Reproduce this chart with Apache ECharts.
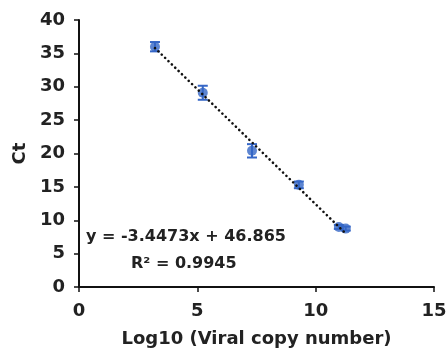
<!DOCTYPE html>
<html>
<head>
<meta charset="utf-8">
<script src="https://cdn.jsdelivr.net/npm/echarts@6/dist/echarts.min.js"></script>
<style>
  html, body { margin: 0; padding: 0; background: #fff; }
  #chart { width: 448px; height: 349px; }
</style>
</head>
<body>
<div id="chart"></div>
<script>
// standard curve points
const logCopies = [3.21, 5.23, 7.31, 9.29, 10.98, 11.27];
const ctMeans = [36.0, 29.1, 20.4, 15.3, 9.0, 8.75];
const ctErrors = [0.7, 1.05, 1.0, 0.5, 0.3, 0.3];

// trendline shown in the figure
const slope = -3.4473;
const intercept = 46.865;
const rSquared = 0.9945;

const xTicks = [0, 5, 10, 15];
const yTicks = [0, 5, 10, 15, 20, 25, 30, 35, 40];

const blue = "#3566c6";
const font = "'DejaVu Sans', sans-serif";

const points = logCopies.map((x, i) => [x, ctMeans[i]]);
const errorData = logCopies.map((x, i) => [x, ctMeans[i] - ctErrors[i], ctMeans[i] + ctErrors[i]]);
const xMin = Math.min(...logCopies);
const xMax = Math.max(...logCopies);
const trend = [
  [xMin, slope * xMin + intercept],
  [xMax, slope * xMax + intercept],
];

const chart = echarts.init(document.getElementById("chart"), null, { renderer: "canvas" });

chart.setOption({
  animation: false,
  backgroundColor: "#fff",
  grid: { left: 79, right: 14, top: 20, bottom: 62, containLabel: false, outerBoundsMode: "none" },
  xAxis: {
    type: "value",
    min: xTicks[0],
    max: xTicks[xTicks.length - 1],
    interval: 5,
    name: "Log10 (Viral copy number)",
    nameLocation: "middle",
    nameGap: 43,
    nameTextStyle: { fontFamily: font, fontWeight: "bold", fontSize: 18, color: "#222" },
    axisLine: { lineStyle: { color: "#111", width: 2 } },
    axisTick: { show: true, length: 5, lineStyle: { color: "#111", width: 1.5 } },
    axisLabel: { margin: 15, fontFamily: font, fontWeight: "bold", fontSize: 18, color: "#222" },
    splitLine: { show: false },
  },
  yAxis: {
    type: "value",
    min: yTicks[0],
    max: yTicks[yTicks.length - 1],
    interval: 5,
    name: "Ct",
    nameLocation: "middle",
    nameRotate: 90,
    nameGap: 50,
    nameTextStyle: { fontFamily: font, fontWeight: "bold", fontSize: 18, color: "#222" },
    axisLine: { show: true, lineStyle: { color: "#111", width: 2 } },
    axisTick: { show: true, length: 5, lineStyle: { color: "#111", width: 1.5 } },
    axisLabel: { margin: 14, fontFamily: font, fontWeight: "bold", fontSize: 18, color: "#222" },
    splitLine: { show: false },
  },
  series: [
    {
      type: "custom",
      name: "error",
      z: 2,
      renderItem: (params, api) => {
        const x = api.value(0);
        const lo = api.coord([x, api.value(1)]);
        const hi = api.coord([x, api.value(2)]);
        const cap = 5;
        const style = { stroke: blue, lineWidth: 2 };
        return {
          type: "group",
          children: [
            { type: "line", shape: { x1: lo[0], y1: lo[1], x2: hi[0], y2: hi[1] }, style },
            { type: "line", shape: { x1: lo[0] - cap, y1: lo[1], x2: lo[0] + cap, y2: lo[1] }, style },
            { type: "line", shape: { x1: hi[0] - cap, y1: hi[1], x2: hi[0] + cap, y2: hi[1] }, style },
          ],
        };
      },
      data: errorData,
    },
    {
      type: "scatter",
      name: "Ct",
      z: 3,
      symbol: "circle",
      symbolSize: 10,
      itemStyle: { color: blue },
      data: points,
    },
    {
      type: "line",
      name: "trend",
      z: 4,
      symbol: "none",
      lineStyle: { color: "#111", width: 2.6, type: [0.1, 4.6], cap: "round" },
      data: trend,
    },
  ],
  graphic: [
    {
      type: "text",
      left: 86,
      top: 229,
      style: {
        text: `y = ${slope}x + ${intercept}`,
        font: `bold 16px ${font}`,
        fill: "#222",
      },
    },
    {
      type: "text",
      left: 131,
      top: 256,
      style: {
        text: `R² = ${rSquared}`,
        font: `bold 16px ${font}`,
        fill: "#222",
      },
    },
  ],
});
</script>
</body>
</html>
